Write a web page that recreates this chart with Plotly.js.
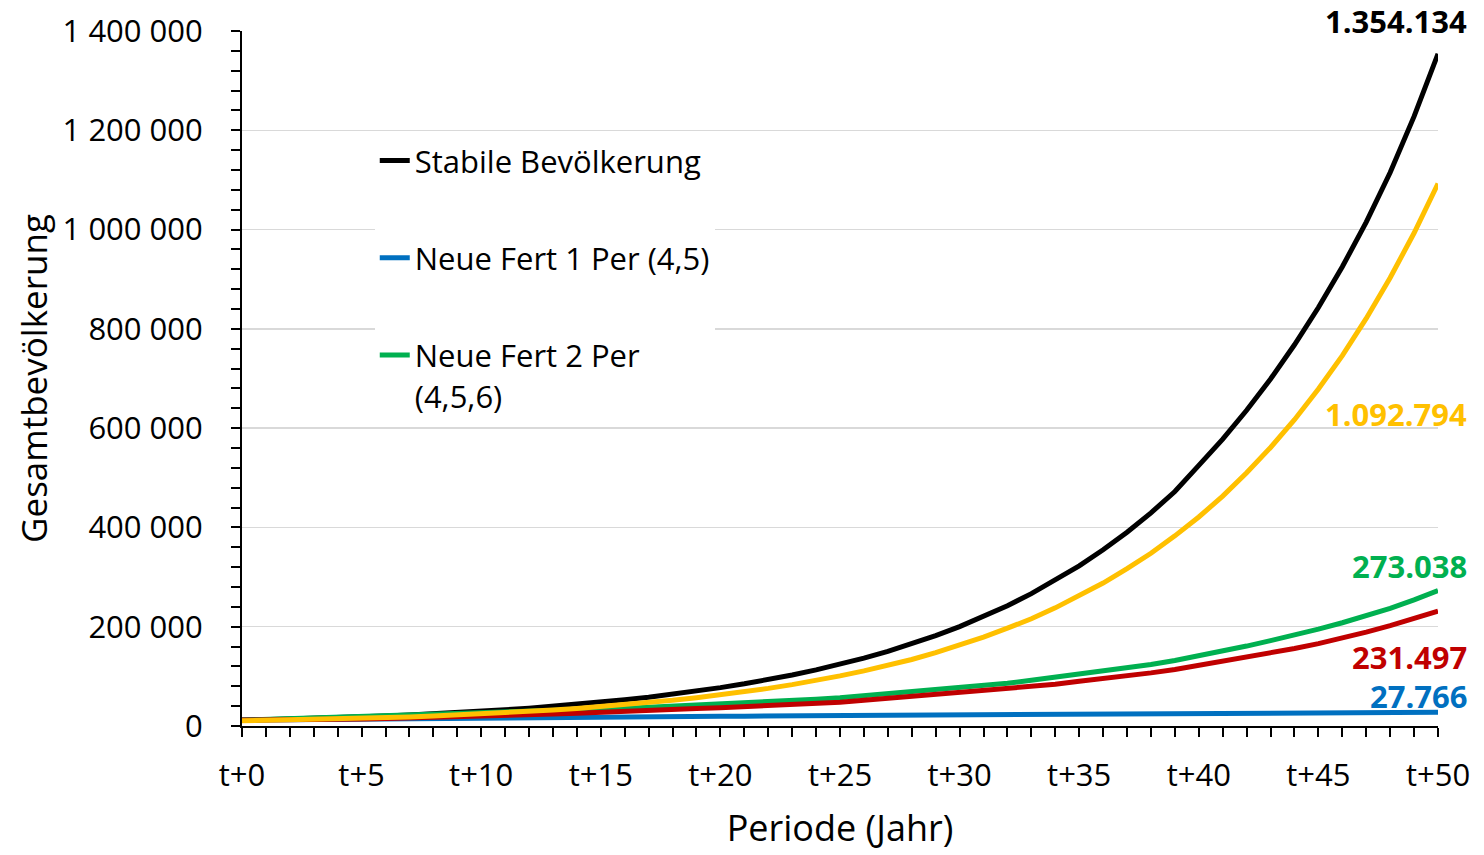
<!DOCTYPE html>
<html><head><meta charset="utf-8">
<script src="https://cdn.plot.ly/plotly-3.0.1.min.js"></script>
<style>html,body{margin:0;padding:0;background:#fff}#chart{width:1484px;height:855px}</style>
</head><body><div id="chart"></div>
<script>
// Periods t+0 … t+50
const periods = [0,1,2,3,4,5,6,7,8,9,10,11,12,13,14,15,16,17,18,19,20,21,22,23,24,25,26,27,28,29,30,31,32,33,34,35,36,37,38,39,40,41,42,43,44,45,46,47,48,49,50];

const seriesNames = ["Stabile Bevölkerung", "Neue Fert 1 Per (4,5)", "Neue Fert 2 Per<br>(4,5,6)", "Rot", "Gelb"];

const stabile = [11500,12600,13900,15300,16800,18500,20300,22400,24600,27100,29800,32800,36000,39600,43600,48000,52800,58000,63800,70200,77300,85000,93500,102800,113100,124400,136800,150500,165600,182100,200300,220300,242400,266600,293300,322600,354900,390400,429400,472300,525000,578000,636000,699000,768000,843000,925000,1015000,1115000,1228000,1354134];

const fert1 = [12000,12500,13000,13500,14000,14500,15000,15500,16000,16300,16600,17000,17300,17600,18000,18300,18600,18900,19200,19400,19600,19800,20000,20500,20800,21000,21200,21300,21400,21500,21700,22300,22700,22900,23000,23100,23200,23300,23500,24200,24700,24900,25000,25100,25200,25400,26300,26900,27300,27600,27766];

const fert2 = [12000,13500,15000,15500,16000,17500,19000,20500,22000,23500,25000,26500,28000,29500,31500,33500,36000,38000,40000,42000,44000,46000,48500,51000,54000,57000,61000,65000,69000,73000,77000,81000,86000,92000,98000,104000,110000,117000,124000,132000,141000,151000,161000,172000,183000,195000,208000,222000,237000,254000,273038];

const rot = [12000,12000,12500,13000,13500,14000,15000,16000,17000,18000,19500,21000,22500,24000,25500,27000,29000,31000,33000,35000,37000,39000,41000,43000,45500,48000,52000,56000,60000,63000,66000,70000,75000,79000,84000,90000,95000,101000,107000,114000,122000,130000,138000,147000,156000,166000,177000,189000,202000,216000,231497];

const gelb = [10500,11300,12000,12900,13900,15000,16500,18200,20000,22000,24200,26600,29200,32200,35400,38900,42800,47100,51800,57000,62700,68900,75800,83400,91700,101000,111000,122000,134000,148000,163000,179000,197000,216000,238000,262000,288000,317000,348000,383000,421000,463000,510000,561000,617000,679000,746000,821000,903000,993000,1092794];

const tickLabelsX = ["t+0","t+5","t+10","t+15","t+20","t+25","t+30","t+35","t+40","t+45","t+50"];
const tickValsX = [0,5,10,15,20,25,30,35,40,45,50];

const FONT = "Open Sans, Noto Sans, sans-serif";
const colors = {stabile:"#000000", fert1:"#0070C0", fert2:"#00B050", rot:"#C00000", gelb:"#FFC000"};

function fmtDE(v){ return String(v).replace(/\B(?=(\d{3})+(?!\d))/g, "."); }

const traces = [
  {x: periods, y: stabile, name: seriesNames[0], mode:"lines", line:{color:colors.stabile, width:5}, legendgroup:"a", showlegend:true},
  {x: periods, y: fert1, name: seriesNames[1], mode:"lines", line:{color:colors.fert1, width:5}, legendgroup:"b", showlegend:true},
  {x: periods, y: fert2, name: seriesNames[2], mode:"lines", line:{color:colors.fert2, width:5}, legendgroup:"c", showlegend:true},
  {x: periods, y: rot, name: seriesNames[3], mode:"lines", line:{color:colors.rot, width:5}, showlegend:false},
  {x: periods, y: gelb, name: seriesNames[4], mode:"lines", line:{color:colors.gelb, width:5}, showlegend:false}
];

const endLabels = [
  {series: stabile, color: colors.stabile, yshift: 33},
  {series: gelb, color: colors.gelb, yshift: -230},
  {series: fert2, color: colors.fert2, yshift: 24},
  {series: rot, color: colors.rot, yshift: -46},
  {series: fert1, color: colors.fert1, yshift: 16}
];

const annotations = endLabels.map(l => {
  const last = l.series[l.series.length-1];
  return {
    x: periods[periods.length-1], y: last, xref:"x", yref:"y",
    text: "<b>" + fmtDE(last) + "</b>", showarrow:false,
    xanchor:"right", yanchor:"middle", xshift: 31, yshift: l.yshift,
    font:{family:FONT, size:31, color:l.color}
  };
});

const layout = {
  width:1484, height:855,
  margin:{l:242, r:46, t:31, b:129},
  paper_bgcolor:"#ffffff", plot_bgcolor:"#ffffff",
  separators:", ",
  showlegend:true,
  legend:{x:0.111, y:0.852, xanchor:"left", yanchor:"top", bgcolor:"#ffffff",
    font:{family:FONT, size:31, color:"#000"}, traceorder:"grouped", tracegroupgap:54, valign:"top"},
  xaxis:{range:[0,50], tickmode:"array", tickvals:tickValsX, ticktext:tickLabelsX,
    showgrid:false, zeroline:false, showline:true, linecolor:"#000", linewidth:2,
    ticks:"outside", ticklen:9, tickwidth:2, tickcolor:"#000",
    minor:{tickmode:"linear", tick0:0, dtick:1, ticks:"outside", ticklen:9, tickwidth:2, tickcolor:"#000", showgrid:false},
    tickfont:{family:FONT, size:31, color:"#000"}, ticklabelstandoff:12,
    title:{text:"Periode (Jahr)", font:{family:FONT, size:36, color:"#000"}, standoff:22}},
  yaxis:{range:[0,1400000], dtick:200000, tickformat:",d",
    showgrid:true, gridcolor:"#D9D9D9", gridwidth:1.5, zeroline:false,
    showline:true, linecolor:"#000", linewidth:2,
    ticks:"outside", ticklen:9, tickwidth:2, tickcolor:"#000",
    minor:{dtick:40000, ticks:"outside", ticklen:9, tickwidth:2, tickcolor:"#000", showgrid:false},
    tickfont:{family:FONT, size:31, color:"#000"}, ticklabelstandoff:22,
    title:{text:"Gesamtbevölkerung", font:{family:FONT, size:35, color:"#000"}, standoff:4}},
  annotations: annotations
};

Plotly.newPlot("chart", traces, layout, {displayModeBar:false, staticPlot:true});
</script>
</body></html>
